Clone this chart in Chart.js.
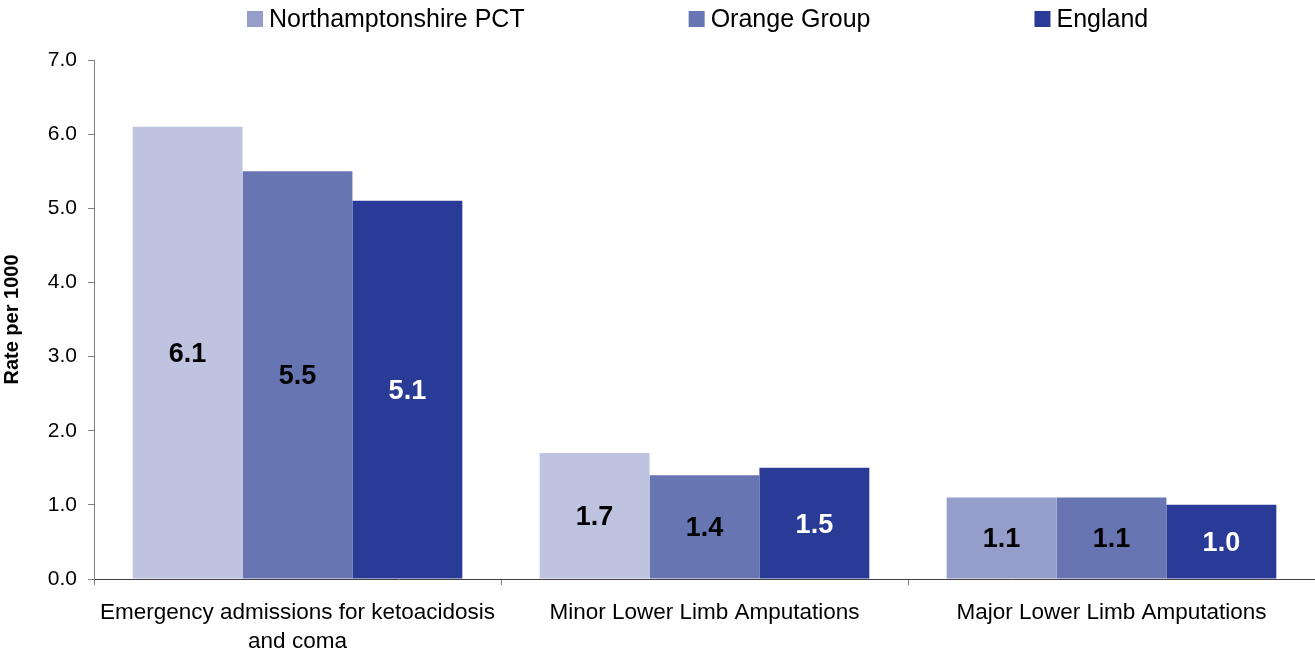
<!DOCTYPE html>
<html>
<head>
<meta charset="utf-8">
<script src="https://cdn.jsdelivr.net/npm/chart.js@4.4.1/dist/chart.umd.min.js"></script>
<style>
  html, body { margin: 0; padding: 0; background: #fff; }
  #wrap { width: 1315px; height: 652px; position: relative; }
</style>
</head>
<body>
<div id="wrap"><canvas id="rateChart"></canvas></div>
<script>
// --- data ---
const categories = [
  ["Emergency admissions for ketoacidosis", "and coma"],
  "Minor Lower Limb Amputations",
  "Major Lower Limb Amputations"
];
const northantsPct = [6.1, 1.7, 1.1];
const orangeGroup = [5.5, 1.4, 1.1];
const england = [5.1, 1.5, 1.0];
const yTicks = [0, 1, 2, 3, 4, 5, 6, 7];

const seriesNames = ["Northamptonshire PCT", "Orange Group", "England"];
const labelColours = ["#000000", "#000000", "#ffffff"];
const FONT = "'Liberation Sans', Arial, sans-serif";

// values written in the middle of every bar
const barLabels = {
  id: "barLabels",
  afterDatasetsDraw(chart) {
    const ctx = chart.ctx;
    ctx.save();
    ctx.font = "bold 27px " + FONT;
    ctx.textAlign = "center";
    ctx.textBaseline = "middle";
    chart.data.datasets.forEach((ds, i) => {
      chart.getDatasetMeta(i).data.forEach((bar, j) => {
        ctx.fillStyle = labelColours[i];
        const mid = (bar.y + bar.base) / 2;
        ctx.fillText(ds.data[j].toFixed(1), bar.x, mid + 2);
      });
    });
    ctx.restore();
  }
};

// legend across the top, wide gaps like the original
const topLegend = {
  id: "topLegend",
  afterDraw(chart) {
    const ctx = chart.ctx;
    ctx.save();
    ctx.font = "25px " + FONT;
    ctx.textBaseline = "middle";
    const box = 16, gapText = 6, gapItem = 164;
    let x = 247;
    const y = 19;
    seriesNames.forEach((name, i) => {
      ctx.fillStyle = i === 0 ? "#959DCB" : chart.data.datasets[i].backgroundColor;
      ctx.fillRect(x, y - box / 2, box, box);
      ctx.fillStyle = "#000";
      ctx.fillText(name, x + box + gapText, y + 1);
      x += box + gapText + ctx.measureText(name).width + gapItem;
    });
    ctx.restore();
  }
};

const chart = new Chart(document.getElementById("rateChart"), {
  type: "bar",
  data: {
    labels: categories,
    datasets: [
      { label: seriesNames[0], data: northantsPct, backgroundColor: ["#BEC3E0", "#BEC3E0", "#959DCB"] },
      { label: seriesNames[1], data: orangeGroup, backgroundColor: "#6775B3" },
      { label: seriesNames[2], data: england, backgroundColor: "#2A3A97" }
    ]
  },
  options: {
    responsive: true,
    maintainAspectRatio: false,
    animation: false,
    layout: { padding: { top: 60, right: 0, left: 0, bottom: 0 } },
    plugins: {
      legend: { display: false },
      tooltip: { enabled: false }
    },
    datasets: {
      bar: { categoryPercentage: 0.81, barPercentage: 1.0, borderWidth: 0 }
    },
    scales: {
      x: {
        grid: { drawOnChartArea: false, tickLength: 6, color: "#808080" },
        border: { color: "#404040", width: 1 },
        ticks: {
          color: "#000",
          padding: 14,
          maxRotation: 0,
          autoSkip: false,
          font: { family: FONT, size: 22.5, lineHeight: 1.27 }
        },
        afterFit: (scale) => { scale.height = 73; }
      },
      y: {
        min: 0,
        max: 7,
        afterBuildTicks: (scale) => { scale.ticks = yTicks.map((v) => ({ value: v })); },
        grid: { drawOnChartArea: false, tickLength: 6, color: "#808080" },
        border: { color: "#808080", width: 1 },
        ticks: {
          color: "#000",
          padding: 11,
          font: { family: FONT, size: 21 },
          callback: (v) => Number(v).toFixed(1)
        },
        title: {
          display: true,
          text: "Rate per 1000",
          color: "#000",
          padding: { top: 0, bottom: 0 },
          font: { family: FONT, size: 20, weight: "bold" }
        },
        afterFit: (scale) => { scale.width = 94; }
      }
    }
  },
  plugins: [barLabels, topLegend]
});
</script>
</body>
</html>
